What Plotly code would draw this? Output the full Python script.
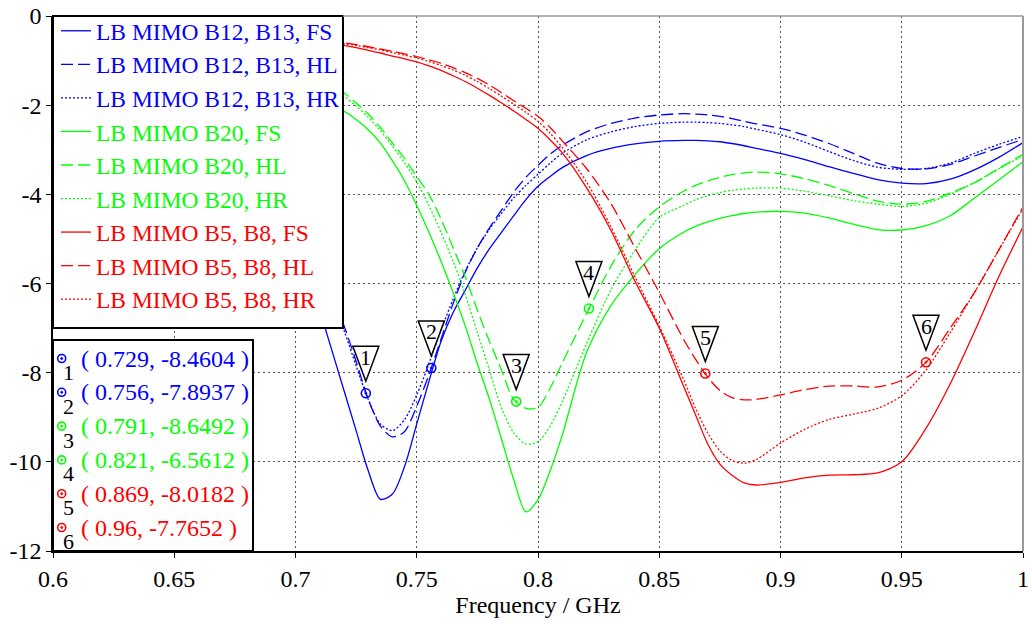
import plotly.graph_objects as go

# Frequency grid (GHz) shared by all S-parameter curves
FREQ = [0.700, 0.710, 0.720, 0.725, 0.730, 0.735, 0.740, 0.745, 0.750, 0.755,
        0.760, 0.765, 0.770, 0.775, 0.780, 0.785, 0.790, 0.795, 0.800, 0.805,
        0.810, 0.820, 0.830, 0.840, 0.850, 0.860, 0.865, 0.870, 0.875, 0.880,
        0.885, 0.890, 0.900, 0.910, 0.920, 0.930, 0.940, 0.950, 0.960, 0.970,
        0.980, 0.990, 1.000]

# Reflection magnitude (dB) per antenna / hand position
B12_B13_FS = [-4.8, -6.6, -8.4, -9.3, -10.2, -10.84, -10.72, -10.1, -9.15, -8.2,
              -7.3, -6.65, -6.15, -5.65, -5.22, -4.85, -4.48, -4.12, -3.82, -3.6,
              -3.4, -3.13, -2.97, -2.87, -2.81, -2.79, -2.79, -2.8, -2.82, -2.86,
              -2.91, -2.97, -3.08, -3.22, -3.38, -3.53, -3.67, -3.75, -3.76, -3.66,
              -3.45, -3.17, -2.84]
B12_B13_HL = [-4.0, -5.6, -6.95, -7.75, -8.6, -9.2, -9.44, -9.32, -8.75, -8.05,
              -7.25, -6.45, -5.75, -5.2, -4.75, -4.35, -3.95, -3.62, -3.35, -3.1,
              -2.9, -2.6, -2.41, -2.29, -2.22, -2.19, -2.2, -2.22, -2.25, -2.3,
              -2.36, -2.42, -2.52, -2.67, -2.86, -3.08, -3.3, -3.42, -3.43, -3.33,
              -3.14, -2.95, -2.77]
B12_B13_HR = [-4.1, -5.7, -7.05, -7.85, -8.6, -9.15, -9.3, -9.05, -8.5, -7.8,
              -7.05, -6.35, -5.72, -5.2, -4.78, -4.42, -4.08, -3.8, -3.55, -3.3,
              -3.08, -2.78, -2.6, -2.48, -2.41, -2.38, -2.38, -2.39, -2.41, -2.44,
              -2.48, -2.54, -2.66, -2.83, -3.04, -3.24, -3.39, -3.44, -3.42, -3.3,
              -3.08, -2.88, -2.7]
B20_FS = [-1.4, -1.75, -2.13, -2.32, -2.55, -2.85, -3.25, -3.7, -4.25, -4.85,
          -5.5, -6.2, -6.95, -7.8, -8.6, -9.5, -10.4, -11.12, -10.85, -10.2,
          -9.4, -7.55, -6.5, -5.8, -5.22, -4.85, -4.72, -4.62, -4.54, -4.48,
          -4.43, -4.4, -4.38, -4.42, -4.53, -4.67, -4.79, -4.8, -4.7, -4.48,
          -4.08, -3.68, -3.27]
B20_HL = [-1.05, -1.38, -1.72, -1.95, -2.2, -2.5, -2.85, -3.2, -3.6, -4.0,
          -4.55, -5.2, -5.85, -6.6, -7.3, -7.95, -8.6, -8.8, -8.78, -8.35,
          -7.78, -6.68, -5.62, -4.8, -4.28, -3.93, -3.8, -3.7, -3.62, -3.56,
          -3.52, -3.5, -3.54, -3.65, -3.8, -3.98, -4.15, -4.22, -4.16, -3.97,
          -3.74, -3.42, -3.1]
B20_HR = [-1.1, -1.43, -1.8, -2.02, -2.27, -2.57, -2.92, -3.3, -3.72, -4.25,
          -4.85, -5.5, -6.25, -7.1, -7.95, -8.8, -9.35, -9.6, -9.55, -9.2,
          -8.65, -7.35, -6.15, -5.25, -4.52, -4.25, -4.12, -4.03, -3.96, -3.91,
          -3.88, -3.86, -3.86, -3.93, -4.03, -4.14, -4.22, -4.27, -4.2, -4.0,
          -3.73, -3.43, -3.14]
B5_B8_FS = [-0.52, -0.59, -0.66, -0.71, -0.77, -0.83, -0.9, -0.96, -1.03, -1.12,
            -1.22, -1.34, -1.47, -1.62, -1.78, -1.95, -2.13, -2.32, -2.52, -2.78,
            -3.07, -3.85, -4.8, -5.95, -7.0, -8.3, -8.95, -9.6, -10.05, -10.3,
            -10.47, -10.52, -10.46, -10.36, -10.3, -10.29, -10.25, -10.0, -9.25, -8.25,
            -7.08, -5.85, -4.73]
B5_B8_HL = [-0.46, -0.53, -0.6, -0.64, -0.69, -0.74, -0.79, -0.85, -0.91, -0.98,
            -1.06, -1.16, -1.27, -1.4, -1.55, -1.72, -1.9, -2.07, -2.25, -2.5,
            -2.8, -3.42, -4.2, -5.2, -6.2, -7.25, -7.7, -8.1, -8.4, -8.56,
            -8.61, -8.6, -8.5, -8.38, -8.3, -8.3, -8.32, -8.17, -7.77, -7.0,
            -6.2, -5.25, -4.28]
B5_B8_HR = [-0.46, -0.54, -0.62, -0.66, -0.71, -0.76, -0.82, -0.88, -0.94, -1.02,
            -1.11, -1.21, -1.33, -1.47, -1.63, -1.8, -1.98, -2.16, -2.36, -2.63,
            -2.95, -3.72, -4.72, -5.85, -6.95, -8.15, -8.8, -9.35, -9.75, -9.97,
            -10.03, -9.95, -9.58, -9.27, -9.05, -8.93, -8.8, -8.52, -7.94, -7.1,
            -6.2, -5.25, -4.32]

SERIES_NAMES = ["LB MIMO B12, B13, FS", "LB MIMO B12, B13, HL", "LB MIMO B12, B13, HR",
                "LB MIMO B20, FS", "LB MIMO B20, HL", "LB MIMO B20, HR",
                "LB MIMO B5, B8, FS", "LB MIMO B5, B8, HL", "LB MIMO B5, B8, HR"]
SERIES_VALUES = [B12_B13_FS, B12_B13_HL, B12_B13_HR,
                 B20_FS, B20_HL, B20_HR,
                 B5_B8_FS, B5_B8_HL, B5_B8_HR]

# Curve markers placed on the HL curves
MARK_F = [0.729, 0.756, 0.791, 0.821, 0.869, 0.96]
MARK_Y = [-8.4604, -7.8937, -8.6492, -6.5612, -8.0182, -7.7652]

X_TICKS = [0.6, 0.65, 0.7, 0.75, 0.8, 0.85, 0.9, 0.95, 1.0]
X_TICK_TEXT = ["0.6", "0.65", "0.7", "0.75", "0.8", "0.85", "0.9", "0.95", "1"]
Y_TICKS = [-12, -10, -8, -6, -4, -2, 0]
Y_TICK_TEXT = ["-12", "-10", "-8", "-6", "-4", "-2", "0"]

BAND_COLORS = ["#0000ff", "#00ff00", "#ff0000"]
POSITION_DASH = ["solid", "12px,5px", "2px,2px"]
MARK_COLORS = ["#0000ff", "#0000ff", "#00ff00", "#00ff00", "#ff0000", "#ff0000"]

FONT = "Liberation Serif, Times New Roman, serif"
W, H = 1032, 624
ML, MR, MT, MB = 53, 9, 16, 73
PW, PH = W - ML - MR, H - MT - MB

fig = go.Figure()

for i, (name, vals) in enumerate(zip(SERIES_NAMES, SERIES_VALUES)):
    color = BAND_COLORS[i // 3]
    dash = POSITION_DASH[i % 3]
    fig.add_trace(go.Scatter(
        x=FREQ, y=vals, mode="lines",
        name=f'<span style="color:{color}">{name}</span>',
        line=dict(color=color, width=1.3, dash=dash, shape="spline", smoothing=0.8),
        hoverinfo="skip",
    ))

fig.add_trace(go.Scatter(
    x=MARK_F, y=MARK_Y, mode="markers", showlegend=False,
    marker=dict(symbol="circle-open-dot", size=9, color=MARK_COLORS, line=dict(width=1.6)),
    hoverinfo="skip",
))

shapes = []
annotations = []

# Frame behind the curve legend (legend itself is transparent)
legend_right_px, legend_bottom_px = 343, 328
shapes.append(dict(
    type="rect", xref="paper", yref="paper",
    x0=0, x1=(legend_right_px - ML) / PW, y0=(H - MB - legend_bottom_px) / PH, y1=1,
    line=dict(color="black", width=2), fillcolor="white", layer="above",
))

# Callout triangles with marker numbers
for i, (f, v) in enumerate(zip(MARK_F, MARK_Y)):
    shapes.append(dict(
        type="path", xref="x", yref="y", xsizemode="pixel", ysizemode="pixel",
        xanchor=f, yanchor=v, path="M 0,12 L -13,47 L 13,47 Z",
        line=dict(color="black", width=1.5), fillcolor="white", layer="above",
    ))
    annotations.append(dict(
        x=f, y=v, xref="x", yref="y", text=str(i + 1), showarrow=False,
        yshift=36, font=dict(family=FONT, size=22, color="black"),
    ))

# Marker readout box in the lower-left corner
box_right_px, box_top_px = 253, 340
shapes.append(dict(
    type="rect", xref="paper", yref="paper",
    x0=0, x1=(box_right_px - ML) / PW, y0=0, y1=(H - MB - box_top_px) / PH,
    line=dict(color="black", width=2), fillcolor="white", layer="above",
))
row0_px, row_step = 358.5, 33.8
for i, (f, v) in enumerate(zip(MARK_F, MARK_Y)):
    py = row0_px + i * row_step
    yp = (H - MB - py) / PH
    xp_icon = (61.7 - ML) / PW
    shapes.append(dict(
        type="circle", xref="paper", yref="paper", xsizemode="pixel", ysizemode="pixel",
        xanchor=xp_icon, yanchor=yp, x0=-4, x1=4, y0=-4, y1=4,
        line=dict(color=MARK_COLORS[i], width=1.6), layer="above",
    ))
    shapes.append(dict(
        type="circle", xref="paper", yref="paper", xsizemode="pixel", ysizemode="pixel",
        xanchor=xp_icon, yanchor=yp, x0=-1, x1=1, y0=-1, y1=1,
        line=dict(color=MARK_COLORS[i], width=1), fillcolor=MARK_COLORS[i], layer="above",
    ))
    annotations.append(dict(
        x=(68 - ML) / PW, y=yp, xref="paper", yref="paper", yshift=-14,
        text=str(i + 1), showarrow=False, xanchor="center", yanchor="middle",
        font=dict(family=FONT, size=22, color="black"),
    ))
    annotations.append(dict(
        x=(79 - ML) / PW, y=yp, xref="paper", yref="paper",
        text=f"( {f:g}, {v:g} )", showarrow=False, xanchor="left", yanchor="middle",
        font=dict(family=FONT, size=24, color=MARK_COLORS[i]),
    ))

# Light frame on the top and right edges
shapes.append(dict(type="line", xref="paper", yref="paper", x0=(legend_right_px - ML) / PW,
                   x1=1, y0=1, y1=1, line=dict(color="#999999", width=1.5), layer="above"))
shapes.append(dict(type="line", xref="paper", yref="paper", x0=1, x1=1, y0=0, y1=1,
                   line=dict(color="#999999", width=2), layer="above"))

axis_common = dict(
    showgrid=True, gridcolor="#555555", gridwidth=1, griddash="2px,3px",
    showline=True, linecolor="black", linewidth=1.5,
    ticks="outside", ticklen=5, tickcolor="black", tickwidth=1.2,
    zeroline=False, automargin=False,
    tickfont=dict(family=FONT, size=24, color="black"),
)

fig.update_layout(
    width=W, height=H,
    margin=dict(l=ML, r=MR, t=MT, b=MB, autoexpand=False),
    paper_bgcolor="white", plot_bgcolor="white",
    font=dict(family=FONT, size=24, color="black"),
    xaxis=dict(range=[0.6, 1.0], tickvals=X_TICKS, ticktext=X_TICK_TEXT,
               title=dict(text="Frequency / GHz", standoff=6,
                          font=dict(family=FONT, size=24, color="black")),
               **axis_common),
    yaxis=dict(range=[-12, 0], tickvals=Y_TICKS, ticktext=Y_TICK_TEXT, **axis_common),
    legend=dict(x=3 / PW, y=1 + 7 / PH, xanchor="left", yanchor="top",
                borderwidth=0, bgcolor="rgba(0,0,0,0)",
                font=dict(family=FONT, size=23.5), tracegroupgap=0),
    shapes=shapes,
    annotations=annotations,
)

fig.write_html("out.html")
